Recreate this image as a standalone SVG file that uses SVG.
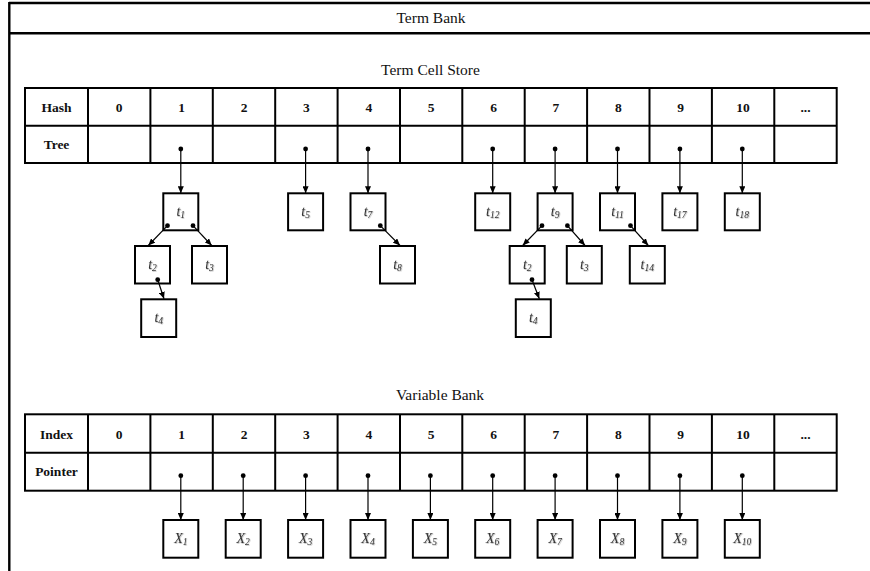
<svg xmlns="http://www.w3.org/2000/svg" width="870" height="571" viewBox="0 0 870 571">
<style>
.frame{stroke:#000;stroke-width:2.4;fill:none}
.grid{stroke:#000;stroke-width:2;fill:none}
.box{stroke:#000;stroke-width:2;fill:#fff}
.title{font-family:"Liberation Serif",serif;font-size:15.5px;fill:#111;text-anchor:middle}
.hd{font-family:"Liberation Serif",serif;font-size:13.5px;font-weight:bold;fill:#111;text-anchor:middle}
.lbl{font-family:"Liberation Serif",serif;font-size:14px;font-style:italic;fill:#333;text-anchor:middle;filter:url(#soft)}
.sub{font-size:9.5px}
.edge{stroke:#000;stroke-width:1.2;fill:none;marker-end:url(#arr)}
.dot{fill:#000}
</style>
<defs>
<marker id="arr" markerUnits="userSpaceOnUse" markerWidth="7" markerHeight="6" refX="7" refY="3" orient="auto">
<path d="M0,0 L7,3 L0,6 z" fill="#000"/>
</marker>
<filter id="soft" x="-20%" y="-20%" width="140%" height="140%">
<feDropShadow dx="0.6" dy="0.6" stdDeviation="0.7" flood-color="#888" flood-opacity="0.8"/>
</filter>
</defs>
<rect width="870" height="571" fill="#fff"/>
<g id="frame">
<line class="frame" x1="9" y1="3" x2="870" y2="3"/>
<line class="frame" x1="9" y1="33.2" x2="870" y2="33.2"/>
<line class="frame" x1="9.3" y1="2" x2="9.3" y2="571"/>
<text class="title" x="431" y="23">Term Bank</text>
</g>
<g id="term-cell-store">
<text class="title" x="430.5" y="75">Term Cell Store</text>
<rect class="grid" x="25" y="88" width="811.7" height="75"/>
<line class="grid" x1="25" y1="125.7" x2="836.7" y2="125.7"/>
<path class="grid" d="M88,88V163 M150.4,88V163 M212.8,88V163 M275.2,88V163 M337.6,88V163 M400,88V163 M462.3,88V163 M524.7,88V163 M587.1,88V163 M649.5,88V163 M711.9,88V163 M774.3,88V163"/>
<text class="hd" x="56.5" y="111.5">Hash</text>
<text class="hd" x="56.5" y="149">Tree</text>
<text class="hd" x="119.2" y="111.5">0</text>
<text class="hd" x="181.6" y="111.5">1</text>
<text class="hd" x="244" y="111.5">2</text>
<text class="hd" x="306.4" y="111.5">3</text>
<text class="hd" x="368.8" y="111.5">4</text>
<text class="hd" x="431.2" y="111.5">5</text>
<text class="hd" x="493.5" y="111.5">6</text>
<text class="hd" x="555.9" y="111.5">7</text>
<text class="hd" x="618.3" y="111.5">8</text>
<text class="hd" x="680.7" y="111.5">9</text>
<text class="hd" x="743.1" y="111.5">10</text>
<text class="hd" x="805.5" y="111.5">...</text>
</g>
<g id="variable-bank">
<text class="title" x="440" y="400">Variable Bank</text>
<rect class="grid" x="25" y="414.3" width="811.7" height="76.4"/>
<line class="grid" x1="25" y1="452.7" x2="836.7" y2="452.7"/>
<path class="grid" d="M88,414.3V490.7 M150.4,414.3V490.7 M212.8,414.3V490.7 M275.2,414.3V490.7 M337.6,414.3V490.7 M400,414.3V490.7 M462.3,414.3V490.7 M524.7,414.3V490.7 M587.1,414.3V490.7 M649.5,414.3V490.7 M711.9,414.3V490.7 M774.3,414.3V490.7"/>
<text class="hd" x="56.5" y="438.5">Index</text>
<text class="hd" x="56.5" y="476">Pointer</text>
<text class="hd" x="119.2" y="438.5">0</text>
<text class="hd" x="181.6" y="438.5">1</text>
<text class="hd" x="244" y="438.5">2</text>
<text class="hd" x="306.4" y="438.5">3</text>
<text class="hd" x="368.8" y="438.5">4</text>
<text class="hd" x="431.2" y="438.5">5</text>
<text class="hd" x="493.5" y="438.5">6</text>
<text class="hd" x="555.9" y="438.5">7</text>
<text class="hd" x="618.3" y="438.5">8</text>
<text class="hd" x="680.7" y="438.5">9</text>
<text class="hd" x="743.1" y="438.5">10</text>
<text class="hd" x="805.5" y="438.5">...</text>
</g>
<g id="t1"><rect class="box" x="163.3" y="193.3" width="35" height="37"/><text class="lbl" x="180.8" y="216">t<tspan class="sub" dy="2">1</tspan></text></g>
<g id="t2a"><rect class="box" x="135" y="246" width="35" height="37.5"/><text class="lbl" x="152.5" y="269">t<tspan class="sub" dy="2">2</tspan></text></g>
<g id="t3a"><rect class="box" x="192" y="246" width="35" height="37.5"/><text class="lbl" x="209.5" y="269">t<tspan class="sub" dy="2">3</tspan></text></g>
<g id="t4a"><rect class="box" x="141.2" y="299.3" width="35" height="37.7"/><text class="lbl" x="158.7" y="322">t<tspan class="sub" dy="2">4</tspan></text></g>
<g id="t5"><rect class="box" x="288.1" y="193.3" width="35" height="37"/><text class="lbl" x="305.6" y="216">t<tspan class="sub" dy="2">5</tspan></text></g>
<g id="t7"><rect class="box" x="350.5" y="193.3" width="35" height="37"/><text class="lbl" x="368" y="216">t<tspan class="sub" dy="2">7</tspan></text></g>
<g id="t8"><rect class="box" x="380" y="246" width="35" height="37.5"/><text class="lbl" x="397.5" y="269">t<tspan class="sub" dy="2">8</tspan></text></g>
<g id="t12"><rect class="box" x="475.2" y="193.3" width="35" height="37"/><text class="lbl" x="492.7" y="216">t<tspan class="sub" dy="2">12</tspan></text></g>
<g id="t9"><rect class="box" x="537.6" y="193.3" width="35" height="37"/><text class="lbl" x="555.1" y="216">t<tspan class="sub" dy="2">9</tspan></text></g>
<g id="t2b"><rect class="box" x="509.7" y="246" width="35" height="37.5"/><text class="lbl" x="527.2" y="269">t<tspan class="sub" dy="2">2</tspan></text></g>
<g id="t3b"><rect class="box" x="566.8" y="246" width="35" height="37.5"/><text class="lbl" x="584.3" y="269">t<tspan class="sub" dy="2">3</tspan></text></g>
<g id="t4b"><rect class="box" x="515.8" y="299.3" width="35" height="37.7"/><text class="lbl" x="533.3" y="322">t<tspan class="sub" dy="2">4</tspan></text></g>
<g id="t11"><rect class="box" x="600" y="193.3" width="35" height="37"/><text class="lbl" x="617.5" y="216">t<tspan class="sub" dy="2">11</tspan></text></g>
<g id="t14"><rect class="box" x="629.8" y="246" width="35" height="37.5"/><text class="lbl" x="647.3" y="269">t<tspan class="sub" dy="2">14</tspan></text></g>
<g id="t17"><rect class="box" x="662.4" y="193.3" width="35" height="37"/><text class="lbl" x="679.9" y="216">t<tspan class="sub" dy="2">17</tspan></text></g>
<g id="t18"><rect class="box" x="724.8" y="193.3" width="35" height="37"/><text class="lbl" x="742.3" y="216">t<tspan class="sub" dy="2">18</tspan></text></g>
<g id="x1"><rect class="box" x="163.3" y="520" width="35" height="37.7"/><text class="lbl" x="180.8" y="543">X<tspan class="sub" dy="2">1</tspan></text></g>
<g id="x2"><rect class="box" x="225.7" y="520" width="35" height="37.7"/><text class="lbl" x="243.2" y="543">X<tspan class="sub" dy="2">2</tspan></text></g>
<g id="x3"><rect class="box" x="288.1" y="520" width="35" height="37.7"/><text class="lbl" x="305.6" y="543">X<tspan class="sub" dy="2">3</tspan></text></g>
<g id="x4"><rect class="box" x="350.5" y="520" width="35" height="37.7"/><text class="lbl" x="368" y="543">X<tspan class="sub" dy="2">4</tspan></text></g>
<g id="x5"><rect class="box" x="412.9" y="520" width="35" height="37.7"/><text class="lbl" x="430.4" y="543">X<tspan class="sub" dy="2">5</tspan></text></g>
<g id="x6"><rect class="box" x="475.2" y="520" width="35" height="37.7"/><text class="lbl" x="492.7" y="543">X<tspan class="sub" dy="2">6</tspan></text></g>
<g id="x7"><rect class="box" x="537.6" y="520" width="35" height="37.7"/><text class="lbl" x="555.1" y="543">X<tspan class="sub" dy="2">7</tspan></text></g>
<g id="x8"><rect class="box" x="600" y="520" width="35" height="37.7"/><text class="lbl" x="617.5" y="543">X<tspan class="sub" dy="2">8</tspan></text></g>
<g id="x9"><rect class="box" x="662.4" y="520" width="35" height="37.7"/><text class="lbl" x="679.9" y="543">X<tspan class="sub" dy="2">9</tspan></text></g>
<g id="x10"><rect class="box" x="724.8" y="520" width="35" height="37.7"/><text class="lbl" x="742.3" y="543">X<tspan class="sub" dy="2">10</tspan></text></g>
<g id="connectors">
<path class="edge" d="M180.8,149V193.3"/>
<path class="edge" d="M305.6,149V193.3"/>
<path class="edge" d="M368,149V193.3"/>
<path class="edge" d="M492.7,149V193.3"/>
<path class="edge" d="M555.1,149V193.3"/>
<path class="edge" d="M617.5,149V193.3"/>
<path class="edge" d="M679.9,149V193.3"/>
<path class="edge" d="M742.3,149V193.3"/>
<path class="edge" d="M167.5,225.7L148.3,245.5"/>
<path class="edge" d="M193,225.7L211.7,245.5"/>
<path class="edge" d="M157.7,279.7L164,298.8"/>
<path class="edge" d="M380.3,225.7L400,245.5"/>
<path class="edge" d="M542,225.7L522.7,245.5"/>
<path class="edge" d="M567.4,225.7L585,245.5"/>
<path class="edge" d="M532,279.7L539.3,298.8"/>
<path class="edge" d="M630.5,225.7L648.3,245.5"/>
<path class="edge" d="M180.8,475.7V520"/>
<path class="edge" d="M243.2,475.7V520"/>
<path class="edge" d="M305.6,475.7V520"/>
<path class="edge" d="M368,475.7V520"/>
<path class="edge" d="M430.4,475.7V520"/>
<path class="edge" d="M492.7,475.7V520"/>
<path class="edge" d="M555.1,475.7V520"/>
<path class="edge" d="M617.5,475.7V520"/>
<path class="edge" d="M679.9,475.7V520"/>
<path class="edge" d="M742.3,475.7V520"/>
<g class="dot">
<circle cx="180.8" cy="149" r="2.4"/><circle cx="305.6" cy="149" r="2.4"/><circle cx="368" cy="149" r="2.4"/><circle cx="492.7" cy="149" r="2.4"/><circle cx="555.1" cy="149" r="2.4"/><circle cx="617.5" cy="149" r="2.4"/><circle cx="679.9" cy="149" r="2.4"/><circle cx="742.3" cy="149" r="2.4"/>
<circle cx="167.5" cy="225.7" r="2.4"/><circle cx="193" cy="225.7" r="2.4"/><circle cx="157.7" cy="279.7" r="2.4"/><circle cx="380.3" cy="225.7" r="2.4"/><circle cx="542" cy="225.7" r="2.4"/><circle cx="567.4" cy="225.7" r="2.4"/><circle cx="532" cy="279.7" r="2.4"/><circle cx="630.5" cy="225.7" r="2.4"/>
<circle cx="180.8" cy="475.7" r="2.4"/><circle cx="243.2" cy="475.7" r="2.4"/><circle cx="305.6" cy="475.7" r="2.4"/><circle cx="368" cy="475.7" r="2.4"/><circle cx="430.4" cy="475.7" r="2.4"/><circle cx="492.7" cy="475.7" r="2.4"/><circle cx="555.1" cy="475.7" r="2.4"/><circle cx="617.5" cy="475.7" r="2.4"/><circle cx="679.9" cy="475.7" r="2.4"/><circle cx="742.3" cy="475.7" r="2.4"/>
</g>
</g>
</svg>
